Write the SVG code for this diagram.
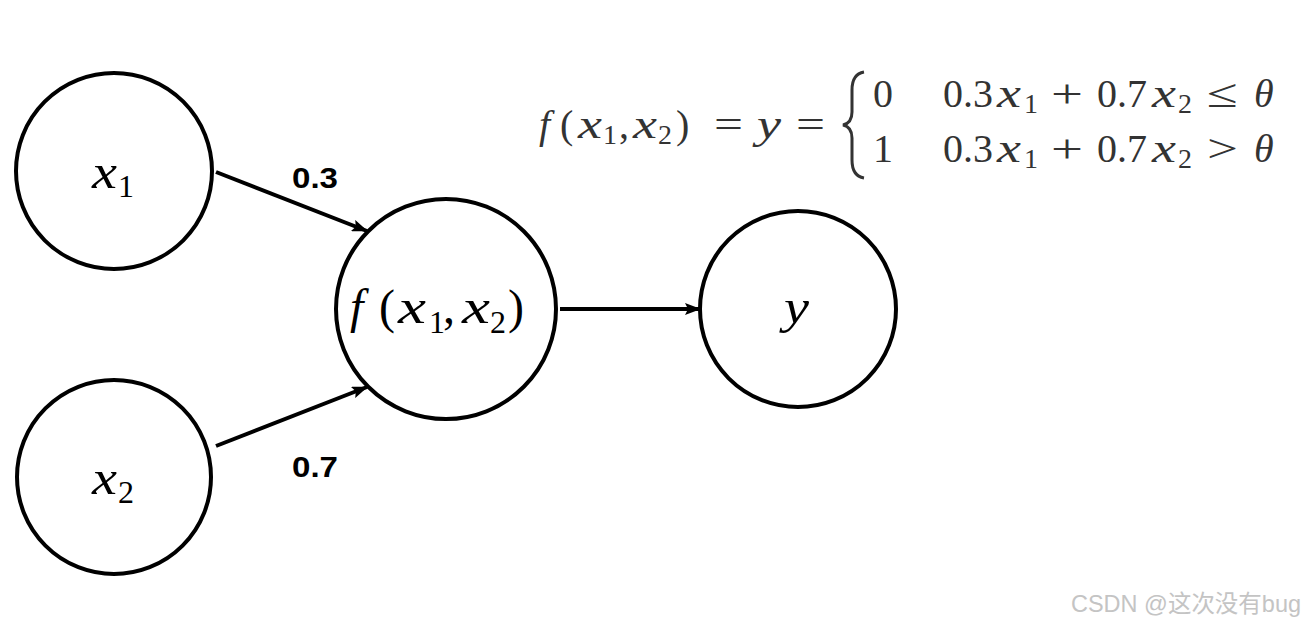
<svg xmlns="http://www.w3.org/2000/svg" width="1314" height="625" viewBox="0 0 1314 625">
<defs>
<marker id="ah" markerWidth="16" markerHeight="12" refX="15" refY="6" orient="auto" markerUnits="userSpaceOnUse"><path d="M0,0 L16,6 L0,12 L3,6 Z" fill="#000"/></marker>
<style>
.node{fill:#fff;stroke:#000;stroke-width:4}
.edge{stroke:#000;stroke-width:4;fill:none;marker-end:url(#ah)}
.nt{font-family:"Liberation Serif",serif;font-size:48px;fill:#000}
.ns{font-family:"Liberation Serif",serif;font-size:32px;fill:#000}
.it{font-style:italic}
.w{font-family:"Liberation Sans",Arial,sans-serif;font-weight:bold;font-size:30px;fill:#000}
.fm{font-family:"Liberation Serif",serif;font-size:40px;fill:#333}
.fs{font-family:"Liberation Serif",serif;font-size:28px;fill:#333}
.wm{font-family:"Liberation Sans","Noto Sans CJK SC",sans-serif;font-size:24px;fill:#c4c4c4}
</style>
</defs>
<rect width="1314" height="625" fill="#fff"/>
<g id="connectors">
<line class="edge" x1="216" y1="172" x2="367" y2="231"/>
<line class="edge" x1="216" y1="446" x2="367" y2="387"/>
<line class="edge" x1="560" y1="309" x2="700" y2="309"/>
</g>
<g id="node-x1"><circle class="node" cx="114" cy="171" r="98"/>
<text class="nt it" x="92" y="188" textLength="25" lengthAdjust="spacingAndGlyphs">x</text><text class="ns" x="118" y="197">1</text></g>
<g id="node-x2"><circle class="node" cx="114" cy="477" r="97"/>
<text class="nt it" x="92" y="494" textLength="25" lengthAdjust="spacingAndGlyphs">x</text><text class="ns" x="118" y="503">2</text></g>
<g id="node-f"><circle class="node" cx="446" cy="309" r="110"/>
<text class="nt it" x="350" y="323">f</text>
<text class="nt" x="379" y="323">(</text>
<text class="nt it" x="398" y="323" textLength="28" lengthAdjust="spacingAndGlyphs">x</text>
<text class="ns" x="429" y="333">1</text>
<text class="nt" x="443" y="323">,</text>
<text class="nt it" x="462" y="323" textLength="28" lengthAdjust="spacingAndGlyphs">x</text>
<text class="ns" x="490" y="333">2</text>
<text class="nt" x="508" y="323">)</text></g>
<g id="node-y"><circle class="node" cx="798" cy="309" r="98"/><text class="nt it" x="784" y="323" textLength="25" lengthAdjust="spacingAndGlyphs">y</text></g>
<g id="labels">
<text class="w" x="292" y="188" textLength="46" lengthAdjust="spacingAndGlyphs">0.3</text>
<text class="w" x="292" y="477" textLength="46" lengthAdjust="spacingAndGlyphs">0.7</text>
</g>
<g id="formula">
<text class="fm it" x="539" y="138">f</text>
<text class="fm" x="560" y="138">(</text>
<text class="fm it" x="578" y="138" textLength="24" lengthAdjust="spacingAndGlyphs">x</text>
<text class="fs" x="603" y="144">1</text>
<text class="fm" x="619" y="138">,</text>
<text class="fm it" x="633" y="138" textLength="24" lengthAdjust="spacingAndGlyphs">x</text>
<text class="fs" x="658" y="144">2</text>
<text class="fm" x="676" y="138">)</text>
<text class="fm" x="714" y="138" textLength="29" lengthAdjust="spacingAndGlyphs">=</text>
<text class="fm it" x="757" y="138" textLength="24" lengthAdjust="spacingAndGlyphs">y</text>
<text class="fm" x="796" y="138" textLength="29" lengthAdjust="spacingAndGlyphs">=</text>
<path d="M864,72 Q852,74 852,90 L852,112 Q852,123 843,125 Q852,127 852,138 L852,160 Q852,176 864,178" fill="none" stroke="#333" stroke-width="3"/>
<text class="fm" x="873" y="107">0</text>
<text class="fm" x="873" y="162">1</text>
<g id="row1">
<text class="fm" x="943" y="107">0.3</text>
<text class="fm it" x="997" y="107" textLength="24" lengthAdjust="spacingAndGlyphs">x</text>
<text class="fs" x="1024" y="113">1</text>
<text class="fm" x="1051" y="107" textLength="32" lengthAdjust="spacingAndGlyphs">+</text>
<text class="fm" x="1097" y="107">0.7</text>
<text class="fm it" x="1152" y="107" textLength="24" lengthAdjust="spacingAndGlyphs">x</text>
<text class="fs" x="1178" y="113">2</text>
<text class="fm" x="1207" y="107" textLength="31" lengthAdjust="spacingAndGlyphs">≤</text>
<text class="fm it" x="1254" y="107">θ</text>
</g>
<g id="row2">
<text class="fm" x="943" y="162">0.3</text>
<text class="fm it" x="997" y="162" textLength="24" lengthAdjust="spacingAndGlyphs">x</text>
<text class="fs" x="1024" y="168">1</text>
<text class="fm" x="1051" y="162" textLength="32" lengthAdjust="spacingAndGlyphs">+</text>
<text class="fm" x="1097" y="162">0.7</text>
<text class="fm it" x="1152" y="162" textLength="24" lengthAdjust="spacingAndGlyphs">x</text>
<text class="fs" x="1178" y="168">2</text>
<text class="fm" x="1207" y="162" textLength="31" lengthAdjust="spacingAndGlyphs">&gt;</text>
<text class="fm it" x="1254" y="162">θ</text>
</g>
</g>
<text class="wm" x="1071" y="612" textLength="230" lengthAdjust="spacingAndGlyphs">CSDN @这次没有bug</text>
</svg>
